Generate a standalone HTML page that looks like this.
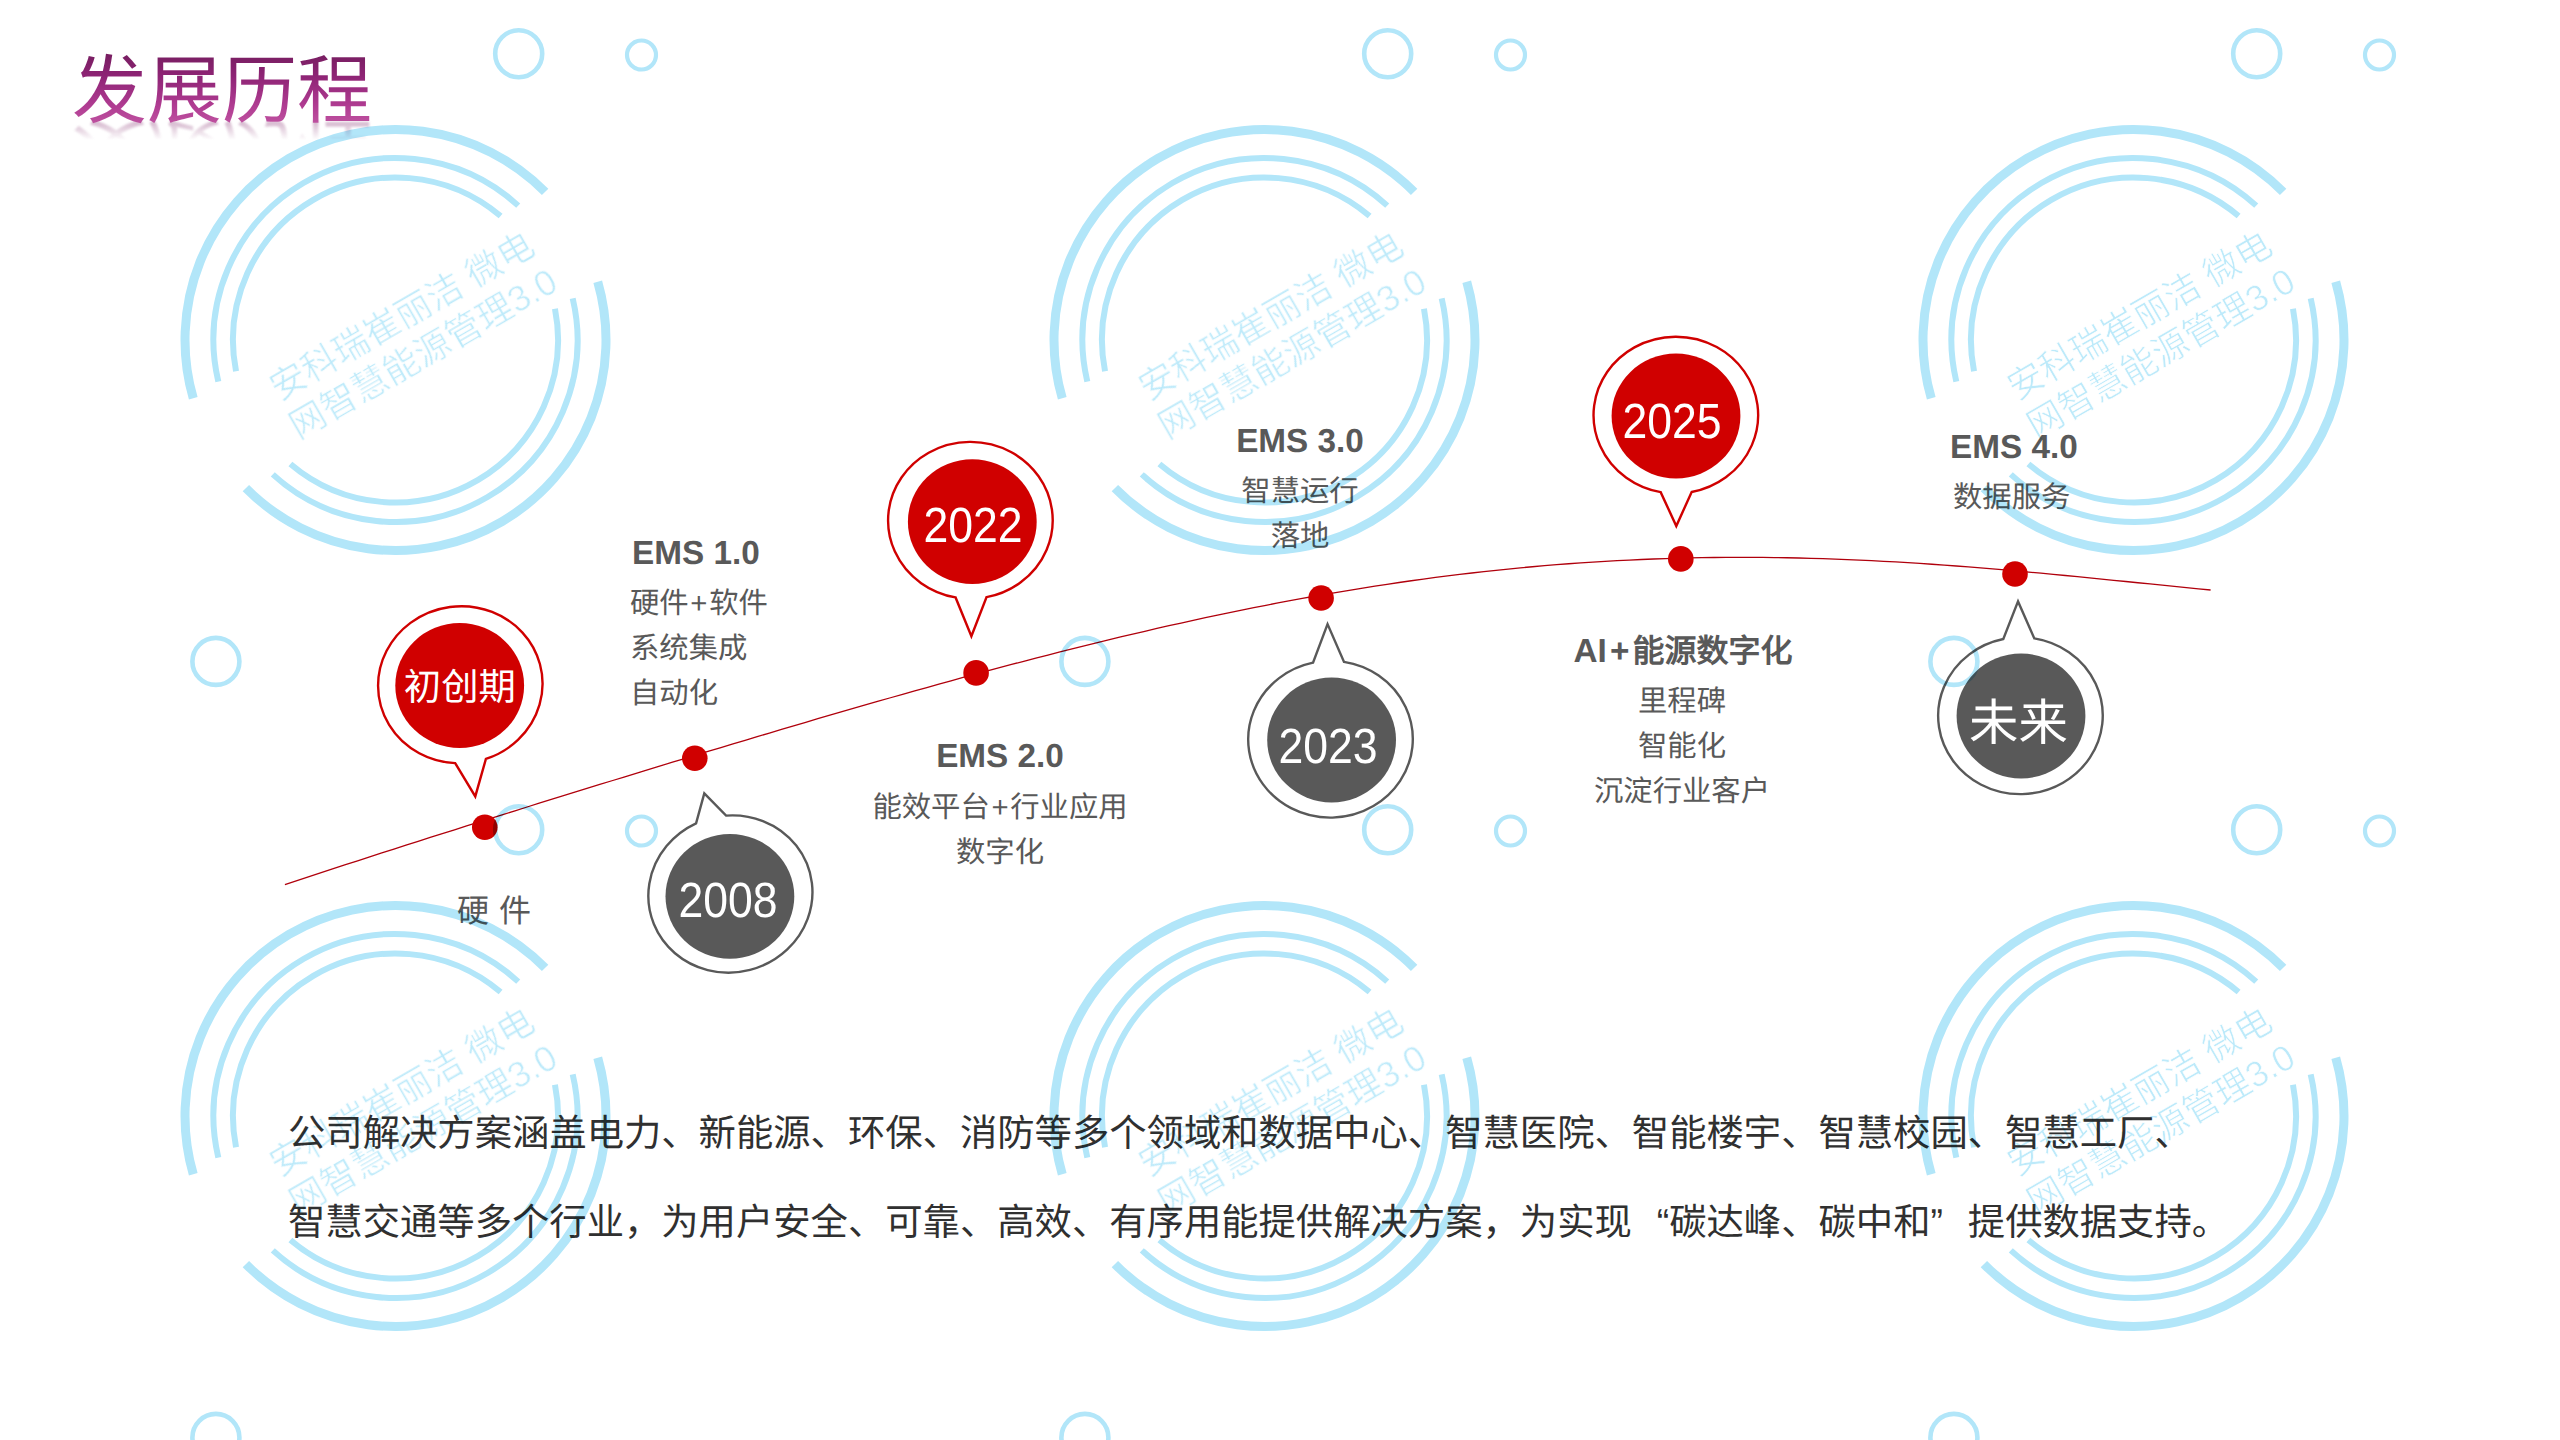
<!DOCTYPE html>
<html lang="zh-CN"><head><meta charset="utf-8">
<style>
html,body{margin:0;padding:0;background:#fff;}
body{width:2560px;height:1440px;position:relative;overflow:hidden;font-family:"Liberation Sans",sans-serif;text-rendering:geometricPrecision;}
.a{position:absolute;white-space:nowrap;}
.title{left:72px;top:41px;font-size:75px;line-height:100px;
 background:linear-gradient(180deg,#6a1a55 0%,#8e2475 35%,#b03c92 65%,#cc66ad 100%);
 -webkit-background-clip:text;background-clip:text;color:transparent;}
.refl{left:72px;top:41px;font-size:75px;line-height:100px;color:#c49ab9;transform-origin:0 80.5px;transform:scaleY(-1);
 opacity:0.7;filter:blur(0.9px);-webkit-mask-image:linear-gradient(180deg,transparent 62%,rgba(0,0,0,0.5) 71%,#000 80%);}
.t11{font-size:29.33px;line-height:45px;color:#595959;}
.p{display:inline-block;width:20.5px;text-align:center;letter-spacing:0;}
.b12{font-size:33.3px;font-weight:bold;color:#595959;line-height:40px;}
.body{font-size:37.33px;color:#303030;line-height:89px;}
.yr{font-size:49.5px;color:#fff;line-height:60px;text-align:center;width:200px;transform:scaleX(0.9);}
.q{display:inline-block;width:37.33px;letter-spacing:0;}
.ql{text-align:right;}
</style></head><body>
<svg class="a" style="left:0;top:0" width="2560" height="1440" viewBox="0 0 2560 1440">
<path d="M284.9,884.65 L297.0,880.62 L309.1,876.61 L321.2,872.62 L333.3,868.65 L345.5,864.70 L357.6,860.77 L369.7,856.85 L381.8,852.95 L393.9,849.06 L406.0,845.18 L418.1,841.32 L430.2,837.47 L442.3,833.63 L454.5,829.79 L466.6,825.97 L478.7,822.16 L490.8,818.36 L502.9,814.56 L515.0,810.78 L527.1,807.00 L539.2,803.23 L551.3,799.46 L563.5,795.71 L575.6,791.96 L587.7,788.21 L599.8,784.48 L611.9,780.75 L624.0,777.03 L636.1,773.32 L648.2,769.61 L660.4,765.91 L672.5,762.22 L684.6,758.54 L696.7,754.87 L708.8,751.21 L720.9,747.55 L733.0,743.91 L745.1,740.28 L757.2,736.66 L769.4,733.05 L781.5,729.45 L793.6,725.87 L805.7,722.30 L817.8,718.74 L829.9,715.20 L842.0,711.68 L854.1,708.17 L866.2,704.68 L878.4,701.21 L890.5,697.75 L902.6,694.32 L914.7,690.91 L926.8,687.52 L938.9,684.15 L951.0,680.80 L963.1,677.48 L975.2,674.19 L987.4,670.92 L999.5,667.68 L1011.6,664.47 L1023.7,661.28 L1035.8,658.13 L1047.9,655.01 L1060.0,651.92 L1072.1,648.86 L1084.2,645.84 L1096.4,642.85 L1108.5,639.90 L1120.6,636.99 L1132.7,634.11 L1144.8,631.28 L1156.9,628.48 L1169.0,625.73 L1181.1,623.02 L1193.2,620.35 L1205.4,617.72 L1217.5,615.14 L1229.6,612.61 L1241.7,610.13 L1253.8,607.69 L1265.9,605.30 L1278.0,602.96 L1290.1,600.67 L1302.3,598.44 L1314.4,596.25 L1326.5,594.12 L1338.6,592.04 L1350.7,590.02 L1362.8,588.06 L1374.9,586.15 L1387.0,584.29 L1399.1,582.50 L1411.3,580.76 L1423.4,579.08 L1435.5,577.47 L1447.6,575.91 L1459.7,574.41 L1471.8,572.98 L1483.9,571.60 L1496.0,570.29 L1508.1,569.04 L1520.3,567.85 L1532.4,566.73 L1544.5,565.67 L1556.6,564.67 L1568.7,563.74 L1580.8,562.87 L1592.9,562.06 L1605.0,561.32 L1617.1,560.64 L1629.3,560.03 L1641.4,559.48 L1653.5,559.00 L1665.6,558.57 L1677.7,558.22 L1689.8,557.92 L1701.9,557.69 L1714.0,557.52 L1726.1,557.41 L1738.3,557.36 L1750.4,557.37 L1762.5,557.45 L1774.6,557.58 L1786.7,557.77 L1798.8,558.02 L1810.9,558.33 L1823.0,558.69 L1835.1,559.10 L1847.3,559.57 L1859.4,560.10 L1871.5,560.67 L1883.6,561.29 L1895.7,561.96 L1907.8,562.68 L1919.9,563.45 L1932.0,564.26 L1944.2,565.11 L1956.3,566.00 L1968.4,566.93 L1980.5,567.89 L1992.6,568.89 L2004.7,569.93 L2016.8,570.99 L2028.9,572.08 L2041.0,573.20 L2053.2,574.34 L2065.3,575.50 L2077.4,576.68 L2089.5,577.87 L2101.6,579.08 L2113.7,580.29 L2125.8,581.52 L2137.9,582.74 L2150.0,583.97 L2162.2,585.19 L2174.3,586.41 L2186.4,587.62 L2198.5,588.81 L2210.6,589.98" fill="none" stroke="#b0000c" stroke-width="1.3"/>
<g transform="translate(460.3,684.7) rotate(-7.64)"><path d="M15.50,77.00 A82.3,78.4 0 1 0 -15.50,77.00 L0,112.72 Z" fill="#fff" stroke="#d00000" stroke-width="2.4" stroke-linejoin="miter"/></g><ellipse cx="459.7" cy="685.5" rx="64.4" ry="62.4" fill="#d00000"/><g transform="translate(730.4,894.0) rotate(165.46)"><path d="M15.50,77.00 A82.3,78.4 0 1 0 -15.50,77.00 L0,103.98 Z" fill="#fff" stroke="#595959" stroke-width="2.4" stroke-linejoin="miter"/></g><ellipse cx="729.9" cy="896.3" rx="64.4" ry="62.4" fill="#595959"/><g transform="translate(970.4,520.3) rotate(-0.49)"><path d="M15.50,77.00 A82.3,78.4 0 1 0 -15.50,77.00 L0,116.00 Z" fill="#fff" stroke="#d00000" stroke-width="2.4" stroke-linejoin="miter"/></g><ellipse cx="972.3" cy="521.7" rx="64.4" ry="62.4" fill="#d00000"/><g transform="translate(1330.5,739.25) rotate(178.53)"><path d="M15.50,77.00 A82.3,78.4 0 1 0 -15.50,77.00 L0,115.19 Z" fill="#fff" stroke="#595959" stroke-width="2.4" stroke-linejoin="miter"/></g><ellipse cx="1331.6" cy="740.0" rx="64.4" ry="62.4" fill="#595959"/><g transform="translate(1675.85,415.1) rotate(-0.23)"><path d="M15.50,77.00 A82.3,78.4 0 1 0 -15.50,77.00 L0,110.90 Z" fill="#fff" stroke="#d00000" stroke-width="2.4" stroke-linejoin="miter"/></g><ellipse cx="1676.0" cy="416.0" rx="64.4" ry="62.4" fill="#d00000"/><g transform="translate(2020.45,715.7) rotate(178.79)"><path d="M15.50,77.00 A82.3,78.4 0 1 0 -15.50,77.00 L0,114.33 Z" fill="#fff" stroke="#595959" stroke-width="2.4" stroke-linejoin="miter"/></g><ellipse cx="2021.0" cy="716.0" rx="64.4" ry="62.4" fill="#595959"/>
<circle cx="484.8" cy="827.3" r="12.8" fill="#d00000"/><circle cx="694.8" cy="758.3" r="12.8" fill="#d00000"/><circle cx="976.1" cy="672.9" r="12.8" fill="#d00000"/><circle cx="1321.1" cy="598.0" r="12.8" fill="#d00000"/><circle cx="1680.8" cy="558.9" r="12.8" fill="#d00000"/><circle cx="2015.0" cy="574.0" r="12.8" fill="#d00000"/>
</svg>
<div class="a refl">发展历程</div>
<div class="a title">发展历程</div>

<div class="a b12" style="left:632px;top:533.5px">EMS 1.0</div>
<div class="a t11" style="left:630px;top:581px">硬件<span class="p">+</span>软件<br>系统集成<br>自动化</div>
<div class="a t11" style="left:457px;top:889px;font-size:32px;letter-spacing:0.5px">硬 件</div>

<div class="a b12" style="left:850px;top:737px;width:300px;text-align:center">EMS 2.0</div>
<div class="a t11" style="left:850px;top:785px;width:300px;text-align:center">能效平台<span class="p">+</span>行业应用<br>数字化</div>

<div class="a b12" style="left:1150px;top:421.5px;width:300px;text-align:center">EMS 3.0</div>
<div class="a t11" style="left:1150px;top:469px;width:300px;text-align:center">智慧运行<br>落地</div>

<div class="a b12" style="left:1573.5px;top:631px">AI<span style="display:inline-block;width:25.8px;text-align:center">+</span><span style="font-size:32px">能源数字化</span></div>
<div class="a t11" style="left:1532px;top:679px;width:300px;text-align:center">里程碑<br>智能化<br>沉淀行业客户</div>

<div class="a b12" style="left:1950px;top:428px">EMS 4.0</div>
<div class="a t11" style="left:1953px;top:475px">数据服务</div>

<div class="a" style="left:359.8px;top:657.1px;width:200px;text-align:center;font-size:37.33px;line-height:60px;color:#fff">初创期</div>
<div class="a yr" style="left:627.6px;top:870.8px">2008</div>
<div class="a yr" style="left:873px;top:496px">2022</div>
<div class="a yr" style="left:1228.1px;top:716.6px">2023</div>
<div class="a yr" style="left:1571.8px;top:391.6px">2025</div>
<div class="a" style="left:1918.5px;top:694.4px;width:200px;text-align:center;font-size:49.4px;line-height:60px;color:#fff">未来</div>

<div class="a body" style="left:288px;top:1088.5px">公司解决方案涵盖电力、新能源、环保、消防等多个领域和数据中心、智慧医院、智能楼宇、智慧校园、智慧工厂、<br>智慧交通等多个行业，为用户安全、可靠、高效、有序用能提供解决方案，为实现<span class="q ql">“</span>碳达峰、碳中和<span class="q">”</span>提供数据支持。</div>

<svg class="a wm" style="left:0;top:0;mix-blend-mode:multiply" width="2560" height="1440" viewBox="0 0 2560 1440">
<defs>
<g id="wt">
<g fill="none" stroke="#b2e6f9"><path d="M-202.24,58.37 A210.5,210.5 0 0 1 149.62,-148.06 M202.24,-58.37 A210.5,210.5 0 0 1 -149.62,148.06" stroke-width="9"/><path d="M-177.19,41.56 A182,182 0 0 1 122.72,-134.40 M177.19,-41.56 A182,182 0 0 1 -122.72,134.40" stroke-width="6"/><path d="M-159.46,31.28 A162.5,162.5 0 0 1 105.10,-123.93 M159.46,-31.28 A162.5,162.5 0 0 1 -105.10,123.93" stroke-width="6"/></g>
<circle cx="123.2" cy="-286.2" r="23.5" fill="none" stroke="#b2e6f9" stroke-width="4.6"/>
<circle cx="246" cy="-285" r="14.5" fill="none" stroke="#b2e6f9" stroke-width="4.2"/>
<circle cx="-179.6" cy="321.4" r="23.5" fill="none" stroke="#b2e6f9" stroke-width="4.6"/>
<g transform="rotate(-30)" fill="#b2e6f9" fill-opacity="0.85" stroke="#fff" stroke-width="0.7" paint-order="fill stroke" font-family="Liberation Sans, sans-serif" font-size="36">
<text x="-131.5" y="-5.5">安科瑞崔丽洁 微电</text>
<text x="-134" y="37.5">网智慧能源管理3.0</text>
</g>
</g>
</defs>
<use href="#wt" x="-473.5" y="-436"/><use href="#wt" x="395.5" y="-436"/><use href="#wt" x="1264.5" y="-436"/><use href="#wt" x="2133.5" y="-436"/><use href="#wt" x="3002.5" y="-436"/><use href="#wt" x="-473.5" y="340"/><use href="#wt" x="395.5" y="340"/><use href="#wt" x="1264.5" y="340"/><use href="#wt" x="2133.5" y="340"/><use href="#wt" x="3002.5" y="340"/><use href="#wt" x="-473.5" y="1116"/><use href="#wt" x="395.5" y="1116"/><use href="#wt" x="1264.5" y="1116"/><use href="#wt" x="2133.5" y="1116"/><use href="#wt" x="3002.5" y="1116"/>
</svg>
</body></html>
